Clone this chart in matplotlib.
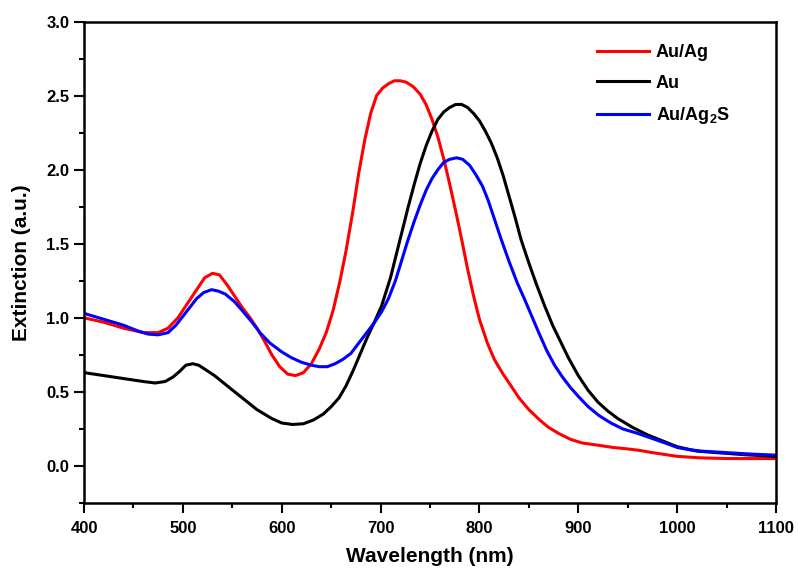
import matplotlib
matplotlib.use("Agg")
import matplotlib.pyplot as plt
from matplotlib.ticker import MultipleLocator

plt.rcParams['font.family'] = ['Liberation Sans', 'DejaVu Sans']
plt.rcParams['font.weight'] = 'bold'
plt.rcParams['mathtext.fontset'] = 'custom'
plt.rcParams['mathtext.rm'] = 'Liberation Sans:bold'
plt.rcParams['mathtext.bf'] = 'Liberation Sans:bold'

# Au/Ag (red)
wl_auag = [400, 420, 440, 460, 475, 485, 495, 505, 515, 522, 530, 537, 545, 552, 560,
           568, 575, 582, 590, 598, 606, 614, 622, 630, 638, 645, 652, 659, 665, 672,
           678, 684, 690, 696, 702, 708, 714, 720, 726, 733, 740, 746, 752, 758, 764,
           770, 776, 782, 788, 794, 800, 808, 815, 823, 830, 840, 850, 861, 870, 880,
           892, 904, 920, 935, 950, 962, 975, 990, 1000, 1022, 1050, 1075, 1100]
ext_auag = [1.00, 0.97, 0.93, 0.90, 0.90, 0.93, 1.00, 1.10, 1.20, 1.27, 1.30, 1.29, 1.22, 1.15, 1.07,
            1.00, 0.93, 0.85, 0.75, 0.67, 0.62, 0.61, 0.63, 0.69, 0.79, 0.90, 1.05, 1.25, 1.45, 1.72,
            1.98, 2.20, 2.38, 2.50, 2.55, 2.58, 2.60, 2.60, 2.59, 2.56, 2.51, 2.44, 2.34, 2.22, 2.07,
            1.90, 1.72, 1.53, 1.33, 1.15, 0.99, 0.83, 0.72, 0.63, 0.56, 0.46, 0.38, 0.31, 0.26, 0.22,
            0.18, 0.155, 0.14, 0.125, 0.115, 0.105, 0.09, 0.075, 0.065, 0.055, 0.05, 0.05, 0.05]

# Au (black)
wl_au = [400, 420, 440, 460, 472, 482, 490, 497, 503, 510, 516, 523, 532, 545, 560,
         575, 590, 600, 611, 622, 632, 642, 650, 658, 665, 672, 679, 686, 693, 701,
         710, 716, 722, 728, 734, 740, 746, 752, 758, 764, 770, 776, 782, 788, 794,
         800, 806, 812, 818, 824, 830, 836, 842, 850, 858, 866, 874, 882, 890, 900,
         910, 920, 930, 940, 955, 970, 985, 1000, 1020, 1040, 1070, 1100]
ext_au = [0.63, 0.61, 0.59, 0.57, 0.56, 0.57, 0.60, 0.64, 0.68, 0.69, 0.68, 0.65, 0.61, 0.54, 0.46,
          0.38, 0.32, 0.29, 0.28, 0.285, 0.31, 0.35, 0.40, 0.46, 0.54, 0.64, 0.75, 0.86, 0.96, 1.08,
          1.27, 1.43, 1.59, 1.75, 1.90, 2.04, 2.16, 2.26, 2.34, 2.39, 2.42, 2.44, 2.44, 2.42, 2.38,
          2.33, 2.26, 2.18, 2.08, 1.96, 1.82, 1.68, 1.53, 1.37, 1.22, 1.08, 0.95, 0.84, 0.73, 0.61,
          0.51, 0.43, 0.37, 0.32, 0.26, 0.21, 0.17, 0.13, 0.10, 0.09, 0.075, 0.065]

# Au/Ag2S (blue)
wl_auags = [400, 420, 440, 455, 465, 475, 485, 493, 500, 507, 514, 521, 529, 536, 543,
            552, 560, 570, 578, 588, 600, 610, 620, 630, 638, 646, 654, 662, 670, 678,
            686, 694, 701, 708, 715, 721, 727, 734, 740, 746, 752, 758, 764, 770, 777,
            783, 790, 796, 803, 809, 815, 822, 830, 838, 846, 853, 860, 868, 876, 884,
            892, 900, 910, 921, 933, 945, 960, 975, 990, 1000, 1012, 1025, 1050, 1075, 1100]
ext_auags = [1.03, 0.99, 0.95, 0.91, 0.89, 0.885, 0.90, 0.95, 1.01, 1.07, 1.13, 1.17, 1.19, 1.18, 1.16,
             1.11, 1.05, 0.97, 0.90, 0.83, 0.77, 0.73, 0.70, 0.68, 0.67, 0.67, 0.69, 0.72, 0.76, 0.83,
             0.90, 0.97, 1.04, 1.13, 1.25, 1.38, 1.51, 1.65, 1.76, 1.86, 1.94, 2.00, 2.05, 2.07, 2.08,
             2.07, 2.03, 1.97, 1.89, 1.79, 1.67, 1.53, 1.38, 1.24, 1.12, 1.01, 0.90, 0.78, 0.68, 0.60,
             0.53, 0.47, 0.40, 0.34, 0.29, 0.25, 0.22, 0.185, 0.15, 0.125, 0.11, 0.10, 0.09, 0.08, 0.073]

fig = plt.figure(figsize=(7.98, 5.70), dpi=100)
ax = fig.add_axes([84/798, 1-503/570, (776-84)/798, (503-21.5)/570])

ax.plot(wl_auag, ext_auag, color='#ff0000', lw=2.2, label='Au/Ag')
ax.plot(wl_au, ext_au, color='black', lw=2.2, label='Au')
ax.plot(wl_auags, ext_auags, color='#0000ff', lw=2.2, label='Au/Ag$_{2}$S')

ax.set_xlim(400, 1100)
ax.set_ylim(-0.25, 3.0)
ax.xaxis.set_major_locator(MultipleLocator(100))
ax.xaxis.set_minor_locator(MultipleLocator(50))
ax.yaxis.set_major_locator(MultipleLocator(0.5))
ax.yaxis.set_minor_locator(MultipleLocator(0.25))
ax.yaxis.set_major_formatter(lambda v, p: '%.1f' % v)

for s in ax.spines.values():
    s.set_linewidth(1.8)
ax.tick_params(which='both', direction='out', width=1.5, labelsize=12, top=False, right=False)
ax.tick_params(which='major', length=7)
ax.tick_params(axis='x', which='major', pad=6)
ax.tick_params(which='minor', length=3.6)
for lab in ax.get_xticklabels() + ax.get_yticklabels():
    lab.set_fontweight('bold')

ax.set_xlabel('Wavelength (nm)', fontsize=15, fontweight='bold', labelpad=8)
ax.set_ylabel('Extinction (a.u.)', fontsize=15, fontweight='bold', labelpad=11)

leg = ax.legend(loc='upper left', bbox_to_anchor=(597/798, 1-44/570), bbox_transform=fig.transFigure,
                frameon=False, fontsize=13, handlelength=2.9, handletextpad=0.35,
                labelspacing=0.75, borderpad=0, borderaxespad=0)
for t in leg.get_texts():
    t.set_fontweight('bold')

fig.savefig('out.png', dpi=100)
